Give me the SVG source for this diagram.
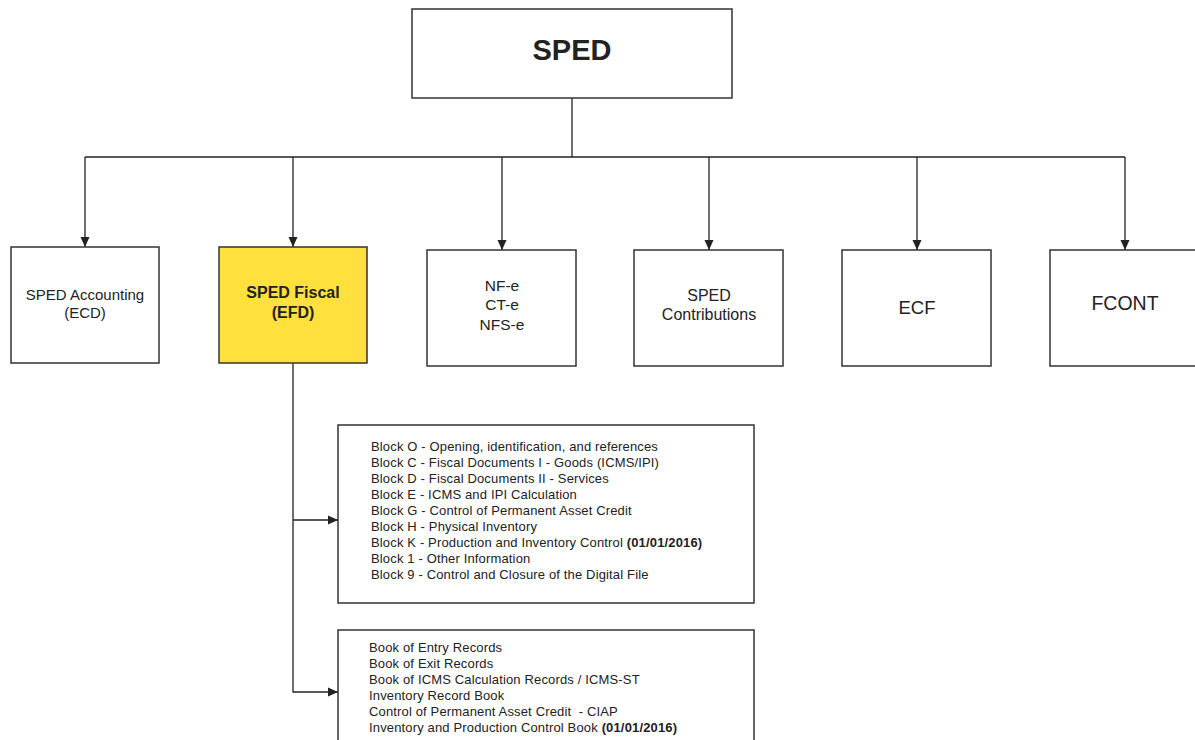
<svg xmlns="http://www.w3.org/2000/svg" width="1195" height="740" viewBox="0 0 1195 740">
<defs>
<style>
.box{fill:#fff;stroke:#333;stroke-width:1.5}
.yel{fill:#FFE03D;stroke:#333;stroke-width:1.5}
.t{font-family:"Liberation Sans",Arial,sans-serif;fill:#222;text-anchor:middle}
.l{font-family:"Liberation Sans",Arial,sans-serif;fill:#222;font-size:13px;letter-spacing:0.15px}
.ln{fill:none;stroke:#222;stroke-width:1.3}
</style>
<marker id="ah" markerWidth="10" markerHeight="12" refX="10" refY="5" orient="auto" markerUnits="userSpaceOnUse">
<path d="M0,0.5 L10,5 L0,9.5 Z" fill="#222"/>
</marker>
</defs>
<rect width="1195" height="740" fill="#fff"/>
<g id="connectors">
<path class="ln" d="M572,98 V157"/>
<path class="ln" d="M85,157 H1125"/>
<path class="ln" d="M85,157 V247" marker-end="url(#ah)"/>
<path class="ln" d="M293,157 V247" marker-end="url(#ah)"/>
<path class="ln" d="M502,157 V250" marker-end="url(#ah)"/>
<path class="ln" d="M709,157 V250" marker-end="url(#ah)"/>
<path class="ln" d="M917,157 V250" marker-end="url(#ah)"/>
<path class="ln" d="M1125,157 V250" marker-end="url(#ah)"/>
<path class="ln" d="M293,363 V692 H338" marker-end="url(#ah)"/>
<path class="ln" d="M293,520 H338" marker-end="url(#ah)"/>
</g>
<g id="sped">
<rect class="box" x="412" y="9" width="320" height="89"/>
<text class="t" x="572" y="60" font-size="29" font-weight="bold">SPED</text>
</g>
<g id="accounting">
<rect class="box" x="11" y="247" width="148" height="116"/>
<text class="t" x="85" y="300" font-size="15">SPED Accounting</text>
<text class="t" x="85" y="318" font-size="15">(ECD)</text>
</g>
<g id="fiscal">
<rect class="yel" x="219" y="247" width="148" height="116"/>
<text class="t" x="293" y="298" font-size="16" font-weight="bold">SPED Fiscal</text>
<text class="t" x="293" y="318" font-size="16" font-weight="bold">(EFD)</text>
</g>
<g id="nfe">
<rect class="box" x="427" y="250" width="149" height="116"/>
<text class="t" x="502" y="291" font-size="15.5">NF-e</text>
<text class="t" x="502" y="310" font-size="15.5">CT-e</text>
<text class="t" x="502" y="330" font-size="15.5">NFS-e</text>
</g>
<g id="contributions">
<rect class="box" x="634" y="250" width="149" height="116"/>
<text class="t" x="709" y="301" font-size="16">SPED</text>
<text class="t" x="709" y="320" font-size="16">Contributions</text>
</g>
<g id="ecf">
<rect class="box" x="842" y="250" width="149" height="116"/>
<text class="t" x="917" y="314" font-size="18.5">ECF</text>
</g>
<g id="fcont">
<rect class="box" x="1050" y="250" width="160" height="116"/>
<text class="t" x="1125" y="310" font-size="19.5">FCONT</text>
</g>
<g id="blocks">
<rect class="box" x="338" y="425" width="416" height="178"/>
<text class="l" x="371" y="451">Block O - Opening, identification, and references</text>
<text class="l" x="371" y="467">Block C - Fiscal Documents I - Goods (ICMS/IPI)</text>
<text class="l" x="371" y="483">Block D - Fiscal Documents II - Services</text>
<text class="l" x="371" y="499">Block E - ICMS and IPI Calculation</text>
<text class="l" x="371" y="515">Block G - Control of Permanent Asset Credit</text>
<text class="l" x="371" y="531">Block H - Physical Inventory</text>
<text class="l" x="371" y="547">Block K - Production and Inventory Control <tspan font-weight="bold">(01/01/2016)</tspan></text>
<text class="l" x="371" y="563">Block 1 - Other Information</text>
<text class="l" x="371" y="579">Block 9 - Control and Closure of the Digital File</text>
</g>
<g id="books">
<rect class="box" x="338" y="630" width="416" height="130"/>
<text class="l" x="369" y="652">Book of Entry Records</text>
<text class="l" x="369" y="668">Book of Exit Records</text>
<text class="l" x="369" y="684">Book of ICMS Calculation Records / ICMS-ST</text>
<text class="l" x="369" y="700">Inventory Record Book</text>
<text class="l" x="369" y="716">Control of Permanent Asset Credit&#160; - CIAP</text>
<text class="l" x="369" y="732">Inventory and Production Control Book <tspan font-weight="bold">(01/01/2016)</tspan></text>
</g>
</svg>
